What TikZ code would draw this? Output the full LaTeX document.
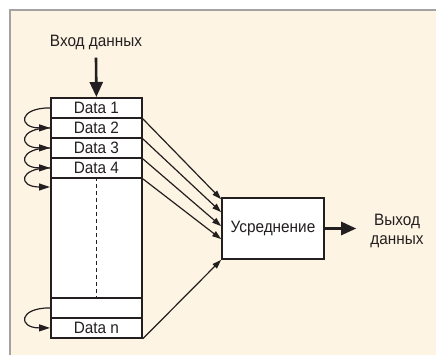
\documentclass[tikz,border=0pt]{standalone}
\usepackage{fontspec}
\setmainfont[FakeStretch=0.93]{Liberation Sans}
\usetikzlibrary{arrows.meta}
\definecolor{cream}{HTML}{FDF4E3}
\definecolor{framegray}{HTML}{A3A3A3}
\definecolor{ink}{HTML}{231F20}
\begin{document}
\begin{tikzpicture}[x=1pt,y=-1pt,
  lbl/.style={font=\fontsize{16.5}{18.5}\selectfont,text=ink,inner sep=0pt},
  row/.style={draw=ink,line width=1.8pt,fill=white,minimum width=91pt,minimum height=20pt,
    inner sep=0pt,anchor=north west,font=\fontsize{16.5}{18}\selectfont,text=ink},
  bigarrow/.style={draw=ink,line width=2.6pt,-{Triangle[length=15pt,width=13pt]}},
  thinarrow/.style={draw=ink,line width=1.2pt,-{Triangle[length=9pt,width=6pt]}},
  looparrow/.style={draw=ink,line width=1.2pt,-{Triangle[length=11pt,width=7pt]}}
]
\useasboundingbox (0,0) rectangle (436,355);
\fill[white] (0,0) rectangle (436,355);
\fill[cream] (9,9) rectangle (436,355);
\fill[framegray] (9,9) rectangle (436,11);
\fill[framegray] (9,9) rectangle (11,355);

% column
\node[row] (r1) at (50,97) {Data 1};
\node[row] (r2) at (50,117) {Data 2};
\node[row] (r3) at (50,137) {Data 3};
\node[row] (r4) at (50,157) {Data 4};
\node[row,minimum height=120pt] (rb) at (50,177) {};
\node[row] (r6) at (50,297) {};
\node[row] (rn) at (50,317) {Data n};
\draw[ink,line width=1.2pt,dash pattern=on 4pt off 3pt] (rb.north) -- (rb.south);
\coordinate (rbin) at ([yshift=-10pt]rb.north west);

% input
\node[lbl] (in) at (96,42) {Вход данных};
\draw[bigarrow] ([yshift=-8pt]in.south) -- (r1.north);

% averaging box
\node[draw=ink,line width=1.8pt,fill=white,minimum width=102pt,minimum height=61pt,inner sep=0pt,
  font=\fontsize{16.5}{18}\selectfont,text=ink] (avg) at (273,228.5) {Усреднение};

\coordinate (t1) at ([yshift=-2pt]avg.north west);
\coordinate (t2) at ([yshift=-15pt]avg.north west);
\coordinate (t3) at ([yshift=-29pt]avg.north west);
\coordinate (t4) at ([yshift=-42pt]avg.north west);
\draw[thinarrow] (r1.south east) -- (t1);
\draw[thinarrow] (r2.south east) -- (t2);
\draw[thinarrow] (r3.south east) -- (t3);
\draw[thinarrow] (r4.south east) -- (t4);
\draw[thinarrow] (rn.south east) -- (avg.south west);

% output
\node[lbl,align=center] (out) at (397,231) {Выход\\данных};
\draw[bigarrow] (avg.east) -- ([xshift=-14pt]out.west |- avg.east);

% loops
\draw[looparrow] (r1.west) .. controls +(-32,0) and +(-32,0) .. (r2.west);
\draw[looparrow] (r2.west) .. controls +(-32,0) and +(-32,0) .. (r3.west);
\draw[looparrow] (r3.west) .. controls +(-32,0) and +(-32,0) .. (r4.west);
\draw[looparrow] (r4.west) .. controls +(-32,0) and +(-32,0) .. (rbin);
\draw[looparrow] (r6.west) .. controls +(-32,0) and +(-32,0) .. (rn.west);
\end{tikzpicture}
\end{document}
